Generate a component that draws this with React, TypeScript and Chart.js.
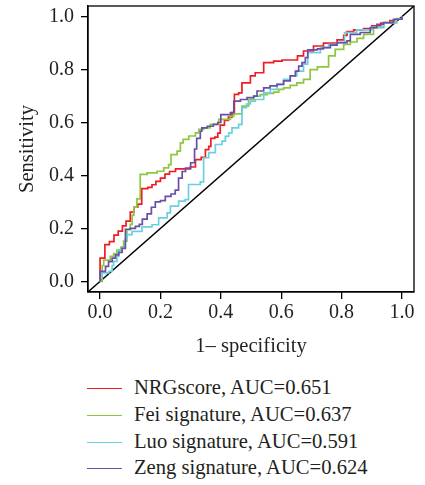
import React, { useEffect, useRef } from "react";
import { Chart, registerables } from "chart.js";

Chart.register(...registerables);

// ---- data ----
const tickValues = [0, 0.2, 0.4, 0.6, 0.8, 1.0];
const tickLabels = ["0.0", "0.2", "0.4", "0.6", "0.8", "1.0"];
const axisMin = -0.04;
const axisMax = 1.04;

const xTitle = "1– specificity";
const yTitle = "Sensitivity";

const seriesNames = [
  "NRGscore, AUC=0.651",
  "Fei signature, AUC=0.637",
  "Luo signature, AUC=0.591",
  "Zeng signature, AUC=0.624",
];
const seriesColors = ["#EE1D23", "#8DC63F", "#6CCFE0", "#6A4FA6"];

const nrgFpr = [0, 0, 0.016, 0.031, 0.046, 0.06, 0.074, 0.086, 0.1, 0.112, 0.125, 0.138, 0.158, 0.172, 0.185, 0.2, 0.215, 0.23, 0.25, 0.299, 0.316, 0.335, 0.349, 0.36, 0.367, 0.38, 0.39, 0.398, 0.412, 0.425, 0.437, 0.445, 0.459, 0.47, 0.498, 0.514, 0.542, 0.575, 0.603, 0.654, 0.674, 0.707, 0.74, 0.785, 0.807, 0.818, 0.84, 0.873, 0.9, 0.93, 0.96, 0.98, 1];
const nrgTpr = [0, 0.088, 0.139, 0.15, 0.175, 0.19, 0.21, 0.228, 0.262, 0.28, 0.292, 0.35, 0.355, 0.365, 0.378, 0.39, 0.405, 0.415, 0.425, 0.432, 0.46, 0.468, 0.498, 0.51, 0.54, 0.545, 0.56, 0.59, 0.608, 0.62, 0.637, 0.706, 0.712, 0.75, 0.776, 0.788, 0.826, 0.832, 0.836, 0.852, 0.87, 0.889, 0.9, 0.912, 0.929, 0.943, 0.95, 0.955, 0.965, 0.975, 0.985, 0.99, 1];

const feiFpr = [0, 0.007, 0.012, 0.034, 0.045, 0.056, 0.069, 0.078, 0.089, 0.1, 0.106, 0.112, 0.122, 0.133, 0.156, 0.189, 0.211, 0.227, 0.235, 0.255, 0.266, 0.275, 0.294, 0.316, 0.327, 0.343, 0.365, 0.393, 0.432, 0.443, 0.47, 0.492, 0.509, 0.531, 0.553, 0.575, 0.592, 0.608, 0.63, 0.652, 0.674, 0.696, 0.72, 0.757, 0.779, 0.807, 0.829, 0.851, 0.873, 0.906, 0.939, 0.983, 1];
const feiTpr = [0, 0.06, 0.08, 0.095, 0.105, 0.118, 0.13, 0.152, 0.195, 0.215, 0.25, 0.28, 0.312, 0.404, 0.41, 0.416, 0.429, 0.441, 0.479, 0.492, 0.523, 0.536, 0.549, 0.561, 0.574, 0.58, 0.593, 0.612, 0.624, 0.633, 0.662, 0.687, 0.7, 0.705, 0.71, 0.715, 0.725, 0.731, 0.74, 0.75, 0.763, 0.8, 0.81, 0.852, 0.876, 0.895, 0.904, 0.918, 0.933, 0.958, 0.977, 0.992, 1];

const luoFpr = [0, 0, 0.007, 0.029, 0.04, 0.045, 0.056, 0.062, 0.073, 0.082, 0.089, 0.106, 0.139, 0.172, 0.194, 0.222, 0.233, 0.26, 0.282, 0.293, 0.332, 0.343, 0.36, 0.382, 0.404, 0.415, 0.426, 0.437, 0.459, 0.47, 0.485, 0.498, 0.514, 0.542, 0.564, 0.586, 0.608, 0.63, 0.652, 0.674, 0.688, 0.73, 0.757, 0.785, 0.81, 0.85, 0.9, 0.94, 0.98, 1];
const luoTpr = [0, 0.015, 0.032, 0.038, 0.06, 0.076, 0.095, 0.12, 0.126, 0.158, 0.177, 0.189, 0.206, 0.214, 0.24, 0.259, 0.284, 0.303, 0.309, 0.366, 0.376, 0.467, 0.486, 0.517, 0.53, 0.548, 0.561, 0.58, 0.593, 0.656, 0.67, 0.681, 0.687, 0.712, 0.725, 0.744, 0.763, 0.776, 0.794, 0.82, 0.864, 0.883, 0.895, 0.902, 0.94, 0.95, 0.96, 0.975, 0.99, 1];

const zengFpr = [0, 0, 0.018, 0.028, 0.04, 0.051, 0.062, 0.073, 0.084, 0.1, 0.117, 0.13, 0.14, 0.156, 0.17, 0.183, 0.2, 0.216, 0.235, 0.249, 0.26, 0.272, 0.283, 0.3, 0.313, 0.32, 0.332, 0.337, 0.355, 0.375, 0.39, 0.4, 0.432, 0.443, 0.465, 0.487, 0.509, 0.52, 0.542, 0.563, 0.586, 0.608, 0.63, 0.647, 0.658, 0.669, 0.68, 0.688, 0.72, 0.74, 0.763, 0.785, 0.818, 0.829, 0.862, 0.895, 0.917, 0.939, 0.972, 1];
const zengTpr = [0, 0.038, 0.057, 0.075, 0.088, 0.1, 0.11, 0.125, 0.197, 0.2, 0.208, 0.215, 0.235, 0.255, 0.28, 0.3, 0.305, 0.321, 0.33, 0.345, 0.39, 0.415, 0.428, 0.448, 0.5, 0.54, 0.567, 0.58, 0.586, 0.593, 0.6, 0.63, 0.637, 0.681, 0.687, 0.694, 0.7, 0.719, 0.731, 0.738, 0.744, 0.757, 0.776, 0.794, 0.813, 0.826, 0.845, 0.874, 0.878, 0.883, 0.892, 0.902, 0.908, 0.933, 0.94, 0.958, 0.971, 0.977, 0.99, 1];

const diagonalX = [axisMin, axisMax];
const diagonalY = [axisMin, axisMax];

const FONT = "'Liberation Serif', 'Times New Roman', serif";
const TEXT = "#231f20";

export default function App() {
  const ref = useRef<HTMLCanvasElement>(null);

  useEffect(() => {
    if (!ref.current) return;
    const pts = (xs: number[], ys: number[]) => xs.map((x, i) => ({ x, y: ys[i] }));
    const fprs = [nrgFpr, feiFpr, luoFpr, zengFpr];
    const tprs = [nrgTpr, feiTpr, luoTpr, zengTpr];
    const datasets: any[] = seriesNames.map((name, i) => ({
      label: name,
      data: pts(fprs[i], tprs[i]),
      borderColor: seriesColors[i],
      backgroundColor: seriesColors[i],
      borderWidth: 1.7,
      pointRadius: 0,
      stepped: "before",
      fill: false,
      order: 4 - i,
    }));
    datasets.push({
      label: "identity",
      data: pts(diagonalX, diagonalY),
      borderColor: "#000",
      borderWidth: 1.4,
      pointRadius: 0,
      fill: false,
      order: 5,
    });

    const boxPlugin = {
      id: "plotBox",
      afterDraw(chart: any) {
        const { ctx, chartArea: a } = chart;
        ctx.save();
        ctx.strokeStyle = "#000";
        ctx.lineWidth = 1.3;
        ctx.strokeRect(a.left, a.top, a.right - a.left, a.bottom - a.top);
        ctx.restore();
      },
    };

    const tickCb = (v: any) => {
      const i = tickValues.indexOf(Number(v));
      return i >= 0 ? tickLabels[i] : "";
    };

    const chart = new Chart(ref.current, {
      type: "line",
      data: { datasets },
      options: {
        animation: false,
        responsive: false,
        devicePixelRatio: 1,
        layout: { padding: { top: 6, right: 11, bottom: 0, left: 0 } },
        plugins: { legend: { display: false }, tooltip: { enabled: false } },
        scales: {
          x: {
            type: "linear",
            min: axisMin,
            max: axisMax,
            afterBuildTicks: (s: any) => {
              s.ticks = tickValues.map((v) => ({ value: v }));
            },
            afterFit: (s: any) => {
              s.height = 68;
              s.paddingLeft = 0;
              s.paddingRight = 0;
            },
            ticks: {
              callback: tickCb,
              font: { family: FONT, size: 20 },
              color: TEXT,
              padding: 2,
              maxRotation: 0,
              autoSkip: false,
            },
            grid: {
              drawOnChartArea: false,
              drawTicks: true,
              tickLength: 7,
              color: "#000",
              tickColor: "#000",
              lineWidth: 1.3,
            },
            border: { display: true, color: "#000", width: 1.3 },
            title: {
              display: true,
              text: xTitle,
              font: { family: FONT, size: 20.6 },
              color: TEXT,
              padding: { top: 0, bottom: 1 },
            },
          },
          y: {
            type: "linear",
            min: axisMin,
            max: axisMax,
            afterBuildTicks: (s: any) => {
              s.ticks = tickValues.map((v) => ({ value: v }));
            },
            afterFit: (s: any) => {
              s.width = 88;
              s.paddingTop = 0;
              s.paddingBottom = 0;
            },
            ticks: {
              callback: tickCb,
              font: { family: FONT, size: 20 },
              color: TEXT,
              padding: 7,
              autoSkip: false,
            },
            grid: {
              drawOnChartArea: false,
              drawTicks: true,
              tickLength: 7,
              color: "#000",
              tickColor: "#000",
              lineWidth: 1.3,
            },
            border: { display: true, color: "#000", width: 1.3 },
            title: {
              display: true,
              text: yTitle,
              font: { family: FONT, size: 20.6 },
              color: TEXT,
              padding: { top: 15, bottom: 0 },
            },
          },
        },
      } as any,
      plugins: [boxPlugin],
    });
    return () => chart.destroy();
  }, []);

  return (
    <div
      style={{
        position: "fixed",
        left: 0,
        top: 0,
        width: 425,
        height: 485,
        background: "#fff",
        overflow: "hidden",
      }}
    >
      <canvas
        ref={ref}
        width={425}
        height={360}
        style={{ position: "absolute", left: 0, top: 0, width: 425, height: 360 }}
      />
      {seriesNames.map((name, i) => {
        const lineY = 389.3 + 26.67 * i;
        const rowTop = Math.round(lineY - 12);
        return (
          <div
            key={name}
            style={{
              position: "absolute",
              left: 0,
              top: rowTop,
              width: 425,
              height: 21,
              fontFamily: FONT,
              fontSize: 20.6,
              lineHeight: "21px",
              color: TEXT,
              whiteSpace: "nowrap",
            }}
          >
            <div
              style={{
                position: "absolute",
                left: 87,
                top: 11,
                width: 35,
                height: 0,
                borderTop: `1.6px solid ${seriesColors[i]}`,
              }}
            />
            <span style={{ position: "absolute", left: 134, top: 0 }}>{name}</span>
          </div>
        );
      })}
    </div>
  );
}
